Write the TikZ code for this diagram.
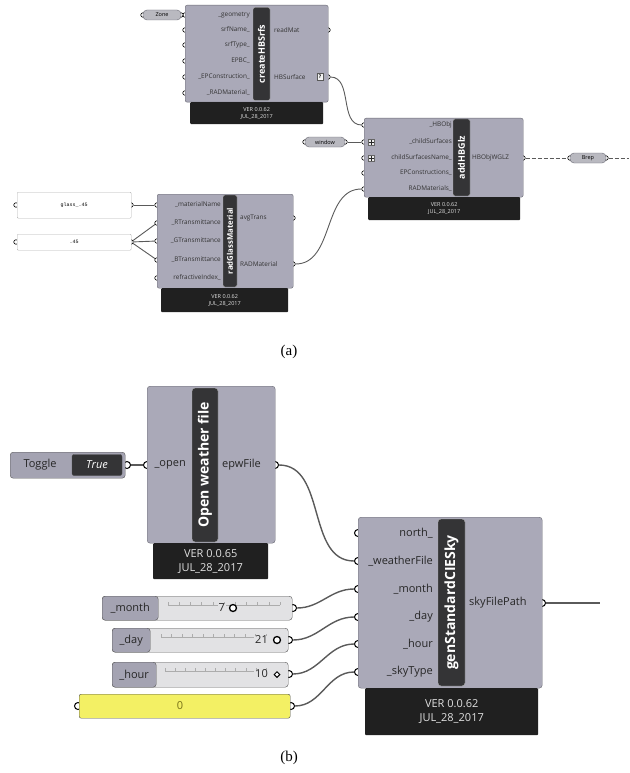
\documentclass[tikz,border=0pt]{standalone}
\usepackage{fontspec}
\setmainfont{Liberation Serif}
\newfontfamily\ghsans{Open Sans}
\newfontfamily\ghmono{Liberation Mono}
\usetikzlibrary{positioning}
\usetikzlibrary{shapes.geometric}

\definecolor{compgray}{RGB}{170,169,184}
\definecolor{compedge}{RGB}{105,105,115}
\definecolor{barblack}{RGB}{52,52,54}
\definecolor{footblack}{RGB}{32,32,32}
\definecolor{wiregray}{RGB}{90,90,90}
\definecolor{sliderback}{RGB}{226,226,228}
\definecolor{sliderlab}{RGB}{164,163,178}
\definecolor{panelyellow}{RGB}{243,240,100}
\definecolor{capsulegray}{RGB}{185,185,192}

\tikzstyle{comp} = [rectangle, rounded corners=2pt, draw=compedge, fill=compgray, anchor=north west, inner sep=0pt]
\tikzstyle{foot} = [rectangle, rounded corners=1pt, fill=footblack, anchor=north west, inner sep=0pt, text=white!88!black, align=center]
\tikzstyle{titlebar} = [rectangle, rounded corners=2pt, draw=gray!60, fill=barblack, text=white, inner sep=0pt, rotate=90]
\tikzstyle{portA} = [circle, draw=black, fill=white, inner sep=0pt, minimum size=4.5pt, line width=0.6pt]
\tikzstyle{portB} = [circle, draw=black, fill=white, inner sep=0pt, minimum size=7pt, line width=1pt]
\tikzstyle{wireA} = [draw=wiregray, line width=0.9pt]
\tikzstyle{wireB} = [draw=wiregray, line width=1.4pt]
\tikzstyle{fontA} = [font=\ghsans\fontsize{5.5}{7}\selectfont]
\tikzstyle{labA} = [font=\ghsans\fontsize{6.4}{7}\selectfont, text=black!80, inner sep=0pt]
\tikzstyle{titleA} = [font=\ghsans\bfseries\fontsize{9}{9}\selectfont]
\tikzstyle{fontB} = [font=\ghsans\fontsize{11}{14}\selectfont]
\tikzstyle{labB} = [font=\ghsans\fontsize{11}{12}\selectfont, text=black!85, inner sep=0pt]
\tikzstyle{titleB} = [font=\ghsans\bfseries\fontsize{14}{15}\selectfont]
\tikzstyle{capsule} = [rectangle, rounded corners=4pt, draw=compedge, fill=capsulegray, minimum height=10pt, inner sep=0pt, font=\ghsans\fontsize{5.5}{6}\selectfont]
\tikzstyle{panel} = [rectangle, rounded corners=1pt, draw=gray!60, fill=white, anchor=north west, inner sep=0pt, font=\ghmono\fontsize{5}{6}\selectfont]
\tikzstyle{plusbox} = [rectangle, draw=gray!80!black, fill=gray!15, minimum size=6pt, inner sep=0pt,
  path picture={\draw[gray!30!black, line width=0.5pt] (path picture bounding box.north) -- (path picture bounding box.south)
  (path picture bounding box.west) -- (path picture bounding box.east);}]
\tikzstyle{qbox} = [rectangle, draw=gray!70!black, fill=gray!10, minimum width=6pt, minimum height=7pt, inner sep=0pt, font=\ghsans\bfseries\fontsize{5}{5}\selectfont]
\tikzstyle{sliderbox} = [rectangle, rounded corners=3pt, draw=gray!70!black, fill=sliderback, anchor=north west, inner sep=0pt]
\tikzstyle{sliderhead} = [rectangle, rounded corners=3pt, draw=gray!70!black, fill=sliderlab, anchor=north west, inner sep=0pt]
\tikzstyle{tick} = [draw=gray!65, line width=0.5pt]
\tikzstyle{caption} = [font=\fontsize{15}{17}\selectfont]

\begin{document}
\begin{tikzpicture}[x=1pt, y=-1pt]
  \useasboundingbox (0,0) rectangle (629,773);

  % ---------------- (a) ----------------
  % createHBSrfs component
  \foreach \y [count=\i] in {15,30,45,61,77,93}
    \node (cs-p\i) [portA] at (185,\y) {};
  \node (cs-o1) [portA] at (328,30) {};
  \node (cs-o2) [portA] at (328,77) {};
  \node (cs) [comp, minimum width=143pt, minimum height=97pt] at (185,5) {};
  \node (csver) [foot, fontA, minimum width=133pt, minimum height=22pt] at (190,102) {VER 0.0.62\\JUL\_28\_2017};
  \node (csbar) [titlebar, titleA, minimum width=93pt, minimum height=17pt] at (261.5,54) {createHBSrfs};
  \foreach \y/\lab [count=\i] in {15/\_geometry, 30/srfName\_, 45/srfType\_, 61/EPBC\_, 77/\_EPConstruction\_, 93/\_RADMaterial\_}
    \node (cs-l\i) [labA, anchor=east] at (250,\y) {\lab};
  \node (cs-r1) [labA, anchor=west] at (274,30) {readMat};
  \node (cs-r2) [labA, anchor=west] at (274,77) {HBSurface};
  \node (cs-q) [qbox] at (320,77) {?};

  % Zone capsule
  \node (zone-pl) [portA] at (143,15) {};
  \node (zone-pr) [portA] at (181,15) {};
  \node (zone) [capsule, minimum width=38pt] at (162,15) {Zone};

  % addHBGlz component
  \foreach \y [count=\i] in {125,142,158,173,189}
    \node (ag-p\i) [portA] at (364,\y) {};
  \node (ag-o1) [portA] at (523,158) {};
  \node (ag) [comp, minimum width=159pt, minimum height=79pt] at (364,118) {};
  \node (agver) [foot, fontA, minimum width=152pt, minimum height=23pt] at (368,197) {VER 0.0.62\\JUL\_28\_2017};
  \node (agbar) [titlebar, titleA, minimum width=77pt, minimum height=17pt] at (461.5,157.5) {addHBGlz};
  \foreach \y/\lab [count=\i] in {125/\_HBObj, 142/\_childSurfaces, 158/childSurfacesName\_, 173/EPConstructions\_, 189/RADMaterials\_}
    \node (ag-l\i) [labA, anchor=east] at (452,\y) {\lab};
  \node (ag-plus2) [plusbox] at (371,142) {};
  \node (ag-plus3) [plusbox] at (371,158) {};
  \node (ag-r1) [labA, anchor=west] at (472,158) {HBObjWGLZ};

  % window and Brep capsules
  \node (win-pl) [portA] at (305,142) {};
  \node (win-pr) [portA] at (345,142) {};
  \node (win) [capsule, minimum width=40pt] at (325,142) {window};
  \node (brep-pl) [portA] at (570,158) {};
  \node (brep-pr) [portA] at (606,158) {};
  \node (brep) [capsule, minimum width=36pt] at (588,158) {Brep};
  \coordinate (aend) at (629,158);

  % radGlassMaterial component
  \foreach \y [count=\i] in {205,223,241,260,278}
    \node (rg-p\i) [portA] at (157,\y) {};
  \node (rg-o1) [portA] at (293,218) {};
  \node (rg-o2) [portA] at (293,264) {};
  \node (rg) [comp, minimum width=136pt, minimum height=94pt] at (157,194) {};
  \node (rgver) [foot, fontA, minimum width=127pt, minimum height=24pt] at (161,288) {VER 0.0.62\\JUL\_28\_2017};
  \node (rgbar) [titlebar, font=\ghsans\bfseries\fontsize{7.8}{8}\selectfont, minimum width=92pt, minimum height=14pt] at (230,241) {radGlassMaterial};
  \foreach \y/\lab [count=\i] in {205/\_materialName, 223/\_RTransmittance, 241/\_GTransmittance, 260/\_BTransmittance, 278/refractiveIndex\_}
    \node (rg-l\i) [labA, anchor=east] at (221,\y) {\lab};
  \node (rg-r1) [labA, anchor=west] at (240,218) {avgTrans};
  \node (rg-r2) [labA, anchor=west] at (240,264) {RADMaterial};

  % panels
  \node (glass-pl) [portA] at (16,205) {};
  \node (glass-pr) [portA] at (131,205) {};
  \node (glass) [panel, minimum width=114pt, minimum height=26pt] at (17,192) {glass\_.45};
  \node (p45-pl) [portA] at (16,242) {};
  \node (p45-pr) [portA] at (131,242) {};
  \node (p45) [panel, minimum width=114pt, minimum height=16pt] at (17,234) {.45};

  % wires (a)
  \draw [wireA] (zone-pr) -- (cs-p1);
  \draw [wireA] (cs-o2) to[out=0,in=180] (ag-p1);
  \draw [wireA] (win-pr) -- (ag-p2);
  \draw [wireA, dash pattern=on 4pt off 2pt] (ag-o1) -- (brep-pl);
  \draw [wireA, dash pattern=on 4pt off 2pt] (brep-pr) -- (aend);
  \draw [wireA] (glass-pr) -- (rg-p1);
  \foreach \i in {2,3,4}
    \draw [wireA] (p45-pr) -- (rg-p\i);
  \draw [wireA] (rg-o2) to[out=0,in=180] (ag-p5);

  \node (capa) [caption] at (289,352) {(a)};

  % ---------------- (b) ----------------
  % Open weather file component
  \node (ow-p1) [portB] at (147,465) {};
  \node (ow-o1) [portB] at (275,465) {};
  \node (ow) [comp, rounded corners=3pt, minimum width=128pt, minimum height=157pt] at (147,386) {};
  \node (owver) [foot, fontB, minimum width=115pt, minimum height=36pt] at (153,543) {VER 0.0.65\\JUL\_28\_2017};
  \node (owbar) [titlebar, titleB, rounded corners=3pt, minimum width=154pt, minimum height=26pt] at (205,465) {Open weather file};
  \node (ow-l1) [labB, anchor=east] at (186,465) {\_open};
  \node (ow-r1) [labB, anchor=west] at (222,465) {epwFile};

  % Toggle
  \node (tog-po) [portB] at (127,465) {};
  \node (tog) [sliderhead, minimum width=115pt, minimum height=26pt] at (10,452) {};
  \node (toglab) [labB] at (40,465) {Toggle};
  \node (togval) [rectangle, rounded corners=2pt, draw=gray!60!black, fill=barblack, text=white, minimum width=50pt, minimum height=21pt, inner sep=0pt, fontB] at (97,465) {\itshape True};

  % genStandardCIESky component
  \foreach \y [count=\i] in {533,561,589,617,644,672}
    \node (gs-p\i) [portB] at (358,\y) {};
  \node (gs-o1) [portB] at (542,603) {};
  \node (gs) [comp, rounded corners=3pt, minimum width=184pt, minimum height=171pt] at (358,517) {};
  \node (gsver) [foot, fontB, minimum width=173pt, minimum height=47pt] at (365,688) {VER 0.0.62\\JUL\_28\_2017};
  \node (gsbar) [titlebar, titleB, rounded corners=3pt, minimum width=167pt, minimum height=27pt] at (451.5,602.5) {genStandardCIESky};
  \foreach \y/\lab [count=\i] in {533/north\_, 561/\_weatherFile, 589/\_month, 617/\_day, 644/\_hour, 672/\_skyType}
    \node (gs-l\i) [labB, anchor=east] at (433,\y) {\lab};
  \node (gs-r1) [labB, anchor=west] at (469,603) {skyFilePath};
  \coordinate (bend) at (600,603);

  % sliders
  \node (month-po) [portB] at (293,608) {};
  \node (month) [sliderbox, minimum width=190pt, minimum height=24pt] at (102,596) {};
  \node (monthlab) [sliderhead, labB, minimum width=56pt, minimum height=24pt] at (102,596) {\_month};
  \draw [tick] (168,605) -- (280,605);
  \foreach \t in {0,...,10}
    \draw [tick] (168+\t*11.2,602) -- (168+\t*11.2,605);
  \node (monthval) [labB, anchor=east, fill=sliderback, inner xsep=1pt] at (226,608) {7};
  \node (monthknob) [circle, draw=black, line width=1.3pt, fill=white, minimum size=7pt, inner sep=0pt] at (233,608) {};

  \node (day-po) [portB] at (289,640) {};
  \node (day) [sliderbox, minimum width=176pt, minimum height=24pt] at (112,628) {};
  \node (daylab) [sliderhead, labB, minimum width=38pt, minimum height=24pt] at (112,628) {\_day};
  \draw [tick] (161,637) -- (266,637);
  \foreach \t in {0,...,10}
    \draw [tick] (161+\t*10.5,634) -- (161+\t*10.5,637);
  \node (dayval) [labB, anchor=east, fill=sliderback, inner xsep=1pt] at (269,640) {21};
  \node (dayknob) [circle, draw=black, line width=1.3pt, fill=white, minimum size=7pt, inner sep=0pt] at (277,640) {};

  \node (hour-po) [portB] at (289,674) {};
  \node (hour) [sliderbox, minimum width=176pt, minimum height=25pt] at (112,662) {};
  \node (hourlab) [sliderhead, labB, minimum width=44pt, minimum height=25pt] at (112,662) {\_hour};
  \draw [tick] (165,671) -- (266,671);
  \foreach \t in {0,...,10}
    \draw [tick] (165+\t*10.1,668) -- (165+\t*10.1,671);
  \node (hourval) [labB, anchor=east, fill=sliderback, inner xsep=1pt] at (269,674) {10};
  \node (hourknob) [diamond, draw=black, line width=1pt, fill=white, minimum size=6pt, inner sep=0pt] at (277,674.5) {};

  % yellow panel
  \node (yel-pl) [portB] at (78,706) {};
  \node (yel-pr) [portB] at (291,706) {};
  \node (yel) [rectangle, rounded corners=2pt, draw=gray!60!black, fill=panelyellow, anchor=north west, minimum width=211pt, minimum height=24pt, inner sep=0pt] at (79,694) {};
  \node (yelval) [labB, text=olive!80!black] at (180,706) {0};

  % wires (b)
  \draw [wireB] (tog-po) -- (ow-p1);
  \draw [wireB] (ow-o1) to[out=0,in=180] (gs-p2);
  \draw [wireB] (month-po) to[out=0,in=180] (gs-p3);
  \draw [wireB] (day-po) to[out=0,in=180] (gs-p4);
  \draw [wireB] (hour-po) to[out=0,in=180] (gs-p5);
  \draw [wireB] (yel-pr) to[out=0,in=180] (gs-p6);
  \draw [wireB] (gs-o1) -- (bend);

  \node (capb) [caption] at (289,758) {(b)};

\end{tikzpicture}
\end{document}
